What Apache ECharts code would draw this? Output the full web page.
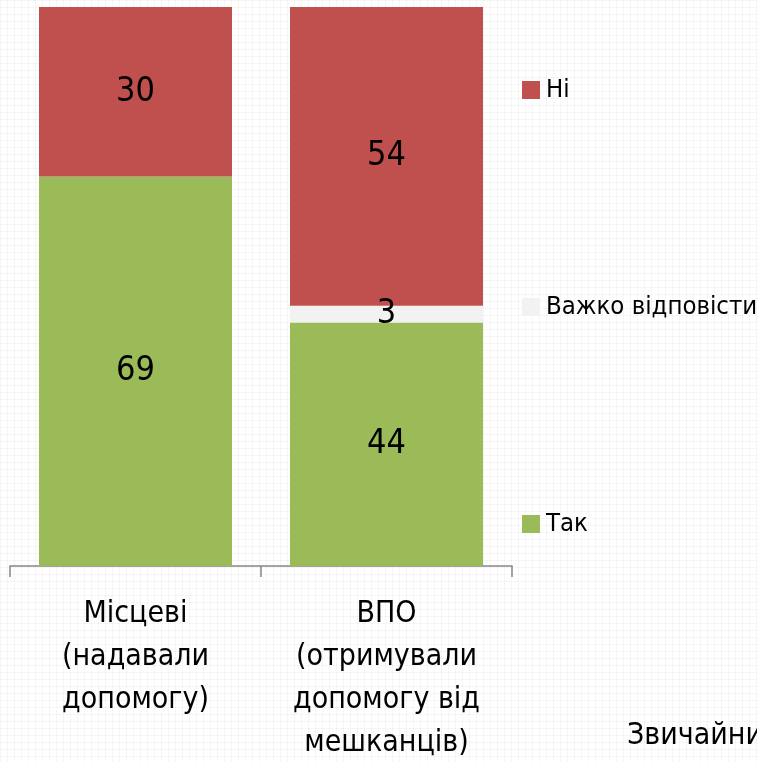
<!DOCTYPE html>
<html>
<head>
<meta charset="utf-8">
<script src="https://cdn.jsdelivr.net/npm/echarts@6/dist/echarts.min.js"></script>
<style>
html,body{margin:0;padding:0;background:#fff;}
#chart{width:757px;height:762px;}
</style>
</head>
<body>
<div id="chart"></div>
<script>
// Data
const categories = ['Місцеві\n(надавали\nдопомогу)', 'ВПО\n(отримували\nдопомогу від\nмешканців)'];
const seriesNames = ['Так', 'Важко відповісти', 'Ні'];
const yesValues = [69, 44];
const hardValues = [0, 3];
const noValues = [30, 54];
const legendOrder = ['Ні', 'Важко відповісти', 'Так'];
const footText = 'Звичайни';

const FONT = '"Liberation Sans Narrow", "Arial Narrow", "DejaVu Sans Condensed", sans-serif';

// 100% stacked: normalise each category to its total
const raw = [yesValues, hardValues, noValues];
const totals = categories.map((_, i) => raw.reduce((s, arr) => s + arr[i], 0));
const colors = ['#9BBB59', '#F2F2F2', '#C0504D'];

// faint graph-paper background
const pat = document.createElement('canvas');
pat.width = 28; pat.height = 28;
const pctx = pat.getContext('2d');
pctx.fillStyle = '#ffffff';
pctx.fillRect(0, 0, 28, 28);
pctx.strokeStyle = 'rgba(0,0,0,0.035)';
pctx.lineWidth = 1;
for (let k = 0; k < 28; k += 7) {
  pctx.beginPath(); pctx.moveTo(k + 0.5, 0); pctx.lineTo(k + 0.5, 28); pctx.stroke();
  pctx.beginPath(); pctx.moveTo(0, k + 0.5); pctx.lineTo(28, k + 0.5); pctx.stroke();
}

const chart = echarts.init(document.getElementById('chart'), null, {renderer: 'canvas'});
chart.setOption({
  backgroundColor: {image: pat, repeat: 'repeat'},
  animation: false,
  textStyle: {fontFamily: FONT},
  grid: {left: 10, right: 245, top: 7, bottom: 196, containLabel: false, outerBoundsMode: 'none'},
  legend: {
    orient: 'vertical',
    left: 522,
    top: 75,
    padding: 0,
    itemWidth: 18,
    itemHeight: 18,
    itemGap: 187,
    icon: 'rect',
    data: legendOrder,
    textStyle: {fontFamily: FONT, fontSize: 25.5, color: '#000', lineHeight: 30, padding: [0, 0, 0, 1]}
  },
  xAxis: {
    type: 'category',
    data: categories,
    axisLine: {lineStyle: {color: '#868686', width: 1.5}},
    axisTick: {show: true, length: 11, lineStyle: {color: '#868686', width: 1.5}},
    axisLabel: {fontFamily: FONT, fontSize: 30, lineHeight: 43, color: '#000', margin: 27, interval: 0}
  },
  yAxis: {
    type: 'value', min: 0, max: 100, show: false,
    splitLine: {show: false}
  },
  graphic: [{
    type: 'text', left: 627, top: 721,
    style: {text: footText, fontFamily: FONT, fontSize: 30, fill: '#000'}
  }],
  series: seriesNames.map((name, si) => ({
    name: name,
    type: 'bar',
    stack: 'total',
    barWidth: 193,
    itemStyle: {color: colors[si]},
    label: {
      show: true,
      position: 'inside',
      fontFamily: FONT,
      fontSize: 34,
      color: '#000',
      formatter: p => (raw[si][p.dataIndex] ? String(raw[si][p.dataIndex]) : '')
    },
    data: raw[si].map((v, i) => v / totals[i] * 100)
  }))
});
</script>
</body>
</html>
